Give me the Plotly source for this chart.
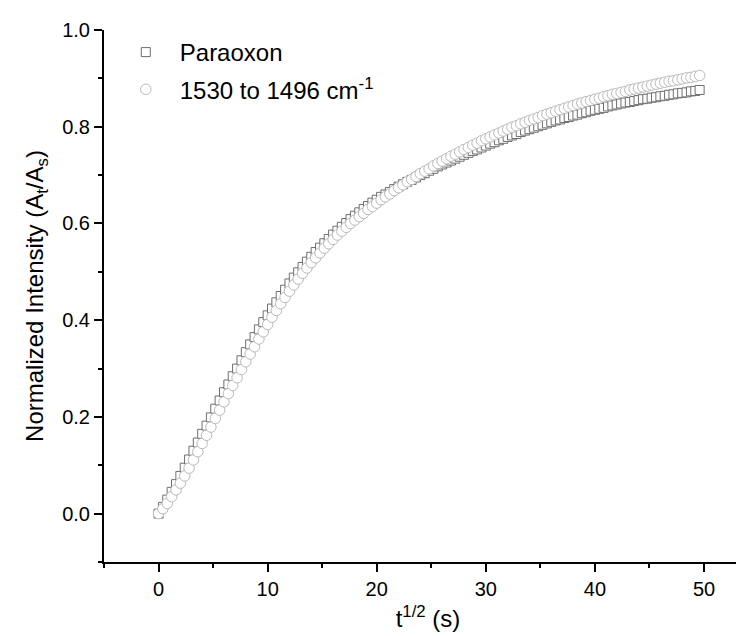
import plotly.graph_objects as go

# t^1/2 (s)
t_half = [
    0.0, 0.4, 0.8, 1.2, 1.6, 2.0, 2.4, 2.8, 3.2, 3.6,
    4.0, 4.4, 4.8, 5.2, 5.6, 6.0, 6.4, 6.8, 7.2, 7.6,
    8.0, 8.4, 8.8, 9.2, 9.6, 10.0, 10.4, 10.8, 11.2, 11.6,
    12.0, 12.4, 12.8, 13.2, 13.6, 14.0, 14.4, 14.8, 15.2, 15.6,
    16.0, 16.4, 16.8, 17.2, 17.6, 18.0, 18.4, 18.8, 19.2, 19.6,
    20.0, 20.4, 20.8, 21.2, 21.6, 22.0, 22.4, 22.8, 23.2, 23.6,
    24.0, 24.4, 24.8, 25.2, 25.6, 26.0, 26.4, 26.8, 27.2, 27.6,
    28.0, 28.4, 28.8, 29.2, 29.6, 30.0, 30.4, 30.8, 31.2, 31.6,
    32.0, 32.4, 32.8, 33.2, 33.6, 34.0, 34.4, 34.8, 35.2, 35.6,
    36.0, 36.4, 36.8, 37.2, 37.6, 38.0, 38.4, 38.8, 39.2, 39.6,
    40.0, 40.4, 40.8, 41.2, 41.6, 42.0, 42.4, 42.8, 43.2, 43.6,
    44.0, 44.4, 44.8, 45.2, 45.6, 46.0, 46.4, 46.8, 47.2, 47.6,
    48.0, 48.4, 48.8, 49.2, 49.6,
]

paraoxon = [
    0.000, 0.014, 0.029, 0.045, 0.061, 0.078, 0.095, 0.112, 0.130, 0.147,
    0.165, 0.182, 0.199, 0.217, 0.234, 0.251, 0.267, 0.284, 0.300, 0.317,
    0.334, 0.350, 0.365, 0.381, 0.396, 0.410, 0.424, 0.437, 0.450, 0.463,
    0.476, 0.488, 0.499, 0.510, 0.521, 0.531, 0.541, 0.550, 0.559, 0.568,
    0.577, 0.585, 0.593, 0.601, 0.609, 0.616, 0.623, 0.630, 0.636, 0.643,
    0.649, 0.655, 0.660, 0.665, 0.671, 0.676, 0.681, 0.686, 0.690, 0.695,
    0.700, 0.704, 0.709, 0.713, 0.718, 0.722, 0.726, 0.730, 0.734, 0.738,
    0.742, 0.746, 0.750, 0.753, 0.757, 0.761, 0.765, 0.768, 0.772, 0.775,
    0.779, 0.782, 0.785, 0.789, 0.792, 0.795, 0.798, 0.801, 0.804, 0.807,
    0.810, 0.813, 0.815, 0.818, 0.820, 0.823, 0.825, 0.828, 0.830, 0.833,
    0.835, 0.837, 0.839, 0.842, 0.844, 0.846, 0.848, 0.850, 0.851, 0.853,
    0.855, 0.857, 0.858, 0.860, 0.861, 0.863, 0.864, 0.866, 0.867, 0.869,
    0.870, 0.871, 0.873, 0.874, 0.876,
]

band_1530_1496 = [
    0.000, 0.010, 0.021, 0.035, 0.049, 0.063, 0.078, 0.094, 0.111, 0.128,
    0.145, 0.162, 0.179, 0.197, 0.214, 0.231, 0.248, 0.265, 0.281, 0.298,
    0.314, 0.330, 0.345, 0.361, 0.376, 0.391, 0.406, 0.420, 0.434, 0.447,
    0.460, 0.473, 0.485, 0.497, 0.508, 0.519, 0.529, 0.539, 0.549, 0.558,
    0.567, 0.576, 0.584, 0.592, 0.600, 0.607, 0.614, 0.621, 0.629, 0.635,
    0.642, 0.649, 0.655, 0.661, 0.668, 0.674, 0.680, 0.686, 0.691, 0.697,
    0.703, 0.708, 0.713, 0.719, 0.724, 0.729, 0.734, 0.739, 0.743, 0.748,
    0.753, 0.757, 0.762, 0.766, 0.771, 0.775, 0.779, 0.783, 0.787, 0.791,
    0.795, 0.799, 0.802, 0.806, 0.809, 0.813, 0.816, 0.819, 0.823, 0.826,
    0.829, 0.832, 0.835, 0.838, 0.841, 0.844, 0.847, 0.849, 0.852, 0.854,
    0.857, 0.859, 0.862, 0.864, 0.867, 0.869, 0.871, 0.873, 0.876, 0.878,
    0.880, 0.882, 0.884, 0.886, 0.888, 0.890, 0.892, 0.894, 0.895, 0.897,
    0.899, 0.901, 0.902, 0.904, 0.906,
]

FONT = "Liberation Sans, Arial, sans-serif"

fig = go.Figure()
fig.add_trace(go.Scatter(
    x=t_half, y=paraoxon, mode="markers", name="Paraoxon", legendgroup="a",
    marker=dict(symbol="square", size=9, color="white",
                line=dict(color="#6e6e6e", width=1)),
))
fig.add_trace(go.Scatter(
    x=t_half, y=band_1530_1496, mode="markers",
    name="1530 to 1496 cm<sup>-1</sup>", legendgroup="b",
    marker=dict(symbol="circle", size=10.5, color="white",
                line=dict(color="#b9b9b9", width=1)),
))

axis_common = dict(
    showline=True, linecolor="black", linewidth=2, mirror=False,
    showgrid=False, zeroline=False, automargin=False,
    ticks="outside", ticklen=8, tickwidth=2, tickcolor="black",
    tickfont=dict(family=FONT, size=20, color="black"),
)

fig.update_xaxes(
    range=[-5, 54.4], dtick=10, tick0=0,
    minor=dict(dtick=5, ticks="outside", ticklen=4, tickwidth=2, tickcolor="black"),
    title=dict(text="t<sup>1/2</sup> (s)", font=dict(family=FONT, size=24, color="black"),
               standoff=11),
    **axis_common,
)
fig.update_yaxes(
    range=[-0.1, 1.0], dtick=0.2, tick0=0, tickformat=".1f",
    minor=dict(dtick=0.1, ticks="outside", ticklen=4, tickwidth=2, tickcolor="black"),
    title=dict(text="Normalized Intensity (A<sub>t</sub>/A<sub>s</sub>)",
               font=dict(family=FONT, size=24, color="black"), standoff=12),
    **axis_common,
)

fig.update_layout(
    template="none",
    width=744, height=636,
    margin=dict(l=96, r=0, t=22, b=82),
    paper_bgcolor="white", plot_bgcolor="white",
    font=dict(family=FONT, color="black"),
    legend=dict(
        x=0.012, y=1.0, xanchor="left", yanchor="top",
        font=dict(family=FONT, size=24, color="black"),
        bgcolor="rgba(0,0,0,0)", borderwidth=0,
        itemwidth=58, tracegroupgap=3,
    ),
)

fig.write_html("out.html")
